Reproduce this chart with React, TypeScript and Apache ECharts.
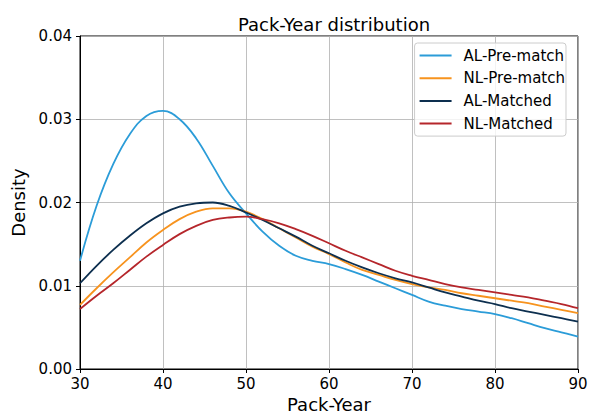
import React, { useEffect, useRef } from "react";
import * as echarts from "echarts";

const packYears = [30, 32, 34, 36, 38, 40, 42, 44, 46, 48, 50, 52, 54, 56, 58, 60, 62, 64, 66, 68, 70, 72, 74, 76, 78, 80, 82, 84, 86, 88, 90];

const alPreMatch = [0.0130, 0.0196, 0.0246, 0.0282, 0.0304, 0.0310, 0.0300, 0.0277, 0.0244, 0.0211, 0.0187, 0.0165, 0.0148, 0.0136, 0.0130, 0.0126, 0.0120, 0.0113, 0.0105, 0.0097, 0.0089, 0.0081, 0.0076, 0.0072, 0.0069, 0.0066, 0.0061, 0.0055, 0.0049, 0.0044, 0.0039];
const nlPreMatch = [0.0077, 0.0097, 0.0116, 0.0134, 0.0152, 0.0167, 0.0180, 0.0189, 0.0193, 0.0193, 0.0189, 0.0180, 0.0169, 0.0158, 0.0147, 0.0138, 0.0128, 0.0119, 0.0113, 0.0107, 0.0102, 0.0098, 0.0095, 0.0091, 0.0088, 0.0085, 0.0082, 0.0079, 0.0075, 0.0071, 0.0067];
const alMatched = [0.0103, 0.0124, 0.0143, 0.0160, 0.0175, 0.0187, 0.0195, 0.0199, 0.0200, 0.0196, 0.0188, 0.0179, 0.0169, 0.0159, 0.0148, 0.0139, 0.0130, 0.0122, 0.0115, 0.0109, 0.0104, 0.0098, 0.0092, 0.0087, 0.0082, 0.0078, 0.0073, 0.0069, 0.0065, 0.0061, 0.0057];
const nlMatched = [0.0072, 0.0088, 0.0103, 0.0119, 0.0135, 0.0149, 0.0162, 0.0172, 0.0179, 0.0182, 0.0183, 0.0180, 0.0175, 0.0168, 0.0160, 0.0151, 0.0142, 0.0134, 0.0126, 0.0118, 0.0112, 0.0107, 0.0102, 0.0098, 0.0095, 0.0092, 0.0089, 0.0086, 0.0082, 0.0078, 0.0073];

const seriesNames = ["AL-Pre-match", "NL-Pre-match", "AL-Matched", "NL-Matched"];
const seriesColors = ["#2b9cd8", "#f7931e", "#0d2f4f", "#b5262b"];
const seriesValues = [alPreMatch, nlPreMatch, alMatched, nlMatched];

const FONT = "DejaVu Sans";

export default function App() {
  const ref = useRef<HTMLDivElement>(null);
  useEffect(() => {
    if (!ref.current) return;
    const chart = echarts.init(ref.current, undefined, { renderer: "svg" });
    const gridLine = { show: true, lineStyle: { color: "#b0b0b0", width: 0.8 } };
    chart.setOption({
      animation: false,
      backgroundColor: "#ffffff",
      textStyle: { fontFamily: FONT },
      title: {
        text: "Pack-Year distribution",
        left: 329,
        top: 10,
        textAlign: "center",
        textStyle: { fontFamily: FONT, fontSize: 18, fontWeight: "normal", color: "#000" },
      },
      grid: {
        left: 80,
        right: 12,
        top: 36,
        bottom: 43,
        outerBoundsMode: "none",
        containLabel: false,
        show: true,
        borderColor: "#000",
        borderWidth: 1,
        backgroundColor: "transparent",
      },
      legend: {
        data: seriesNames,
        orient: "vertical",
        right: 24,
        top: 43,
        icon: "rect",
        itemWidth: 32,
        itemHeight: 2,
        itemGap: 7.7,
        backgroundColor: "rgba(255,255,255,0.8)",
        borderColor: "#cccccc",
        borderWidth: 1,
        borderRadius: 3,
        padding: [5, 1, 5, 5],
        textStyle: { fontFamily: FONT, fontSize: 15, color: "#000", padding: [0, 0, 0, 7] },
      },
      xAxis: {
        type: "value",
        min: 30,
        max: 90,
        interval: 10,
        name: "Pack-Year",
        nameLocation: "middle",
        nameGap: 25,
        nameTextStyle: { fontFamily: FONT, fontSize: 18, color: "#000" },
        axisLine: { show: true, onZero: false, lineStyle: { color: "#000", width: 1 } },
        axisTick: { show: true, length: 4, lineStyle: { color: "#000" } },
        axisLabel: { fontFamily: FONT, fontSize: 15, color: "#000", margin: 7 },
        splitLine: gridLine,
      },
      yAxis: {
        type: "value",
        min: 0,
        max: 0.04,
        interval: 0.01,
        name: "Density",
        nameLocation: "middle",
        nameGap: 49,
        nameTextStyle: { fontFamily: FONT, fontSize: 18, color: "#000" },
        axisLine: { show: true, lineStyle: { color: "#000", width: 1 } },
        axisTick: { show: true, length: 4, lineStyle: { color: "#000" } },
        axisLabel: {
          fontFamily: FONT,
          fontSize: 15,
          color: "#000",
          margin: 8,
          formatter: (v: number) => v.toFixed(2),
        },
        splitLine: gridLine,
      },
      series: seriesNames.map((name, i) => ({
        name,
        type: "line",
        smooth: 0.4,
        showSymbol: false,
        symbol: "none",
        color: seriesColors[i],
        lineStyle: { width: 1.8, color: seriesColors[i] },
        data: packYears.map((x, j) => [x, seriesValues[i][j]]),
      })),
    });
    return () => chart.dispose();
  }, []);
  return <div ref={ref} style={{ width: 590, height: 412, position: "absolute", left: 0, top: 0 }} />;
}
